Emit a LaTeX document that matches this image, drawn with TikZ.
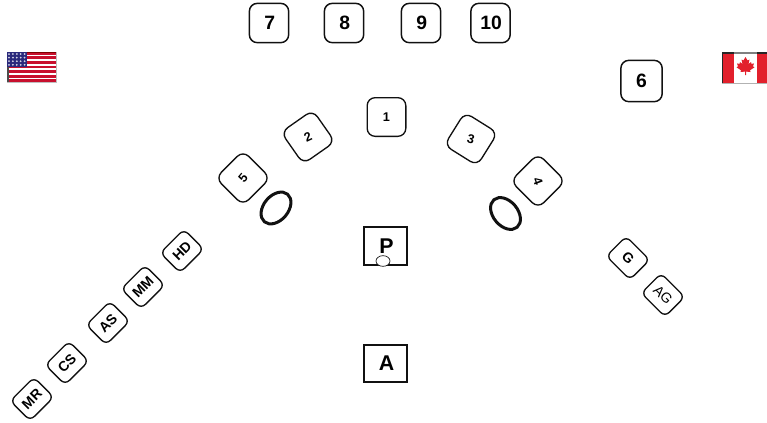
\documentclass[tikz,border=0pt]{standalone}
\usepackage{fontspec}
\setmainfont{Liberation Sans}
\usetikzlibrary{positioning,shapes.geometric}
\definecolor{FlagRed}{HTML}{C8102E}
\definecolor{FlagBlue}{HTML}{2A2A7C}
\definecolor{LeafRed}{HTML}{E2202C}
\definecolor{Edge}{HTML}{111111}
\tikzset{
 bigseat/.style={draw=Edge, line width=1.1pt, rounded corners=6pt, fill=white, minimum size=29.5pt, inner sep=0pt, font=\fontsize{14.5}{16}\selectfont\bfseries},
 midseat/.style={draw=Edge, line width=1pt, rounded corners=6pt, fill=white, minimum size=29pt, inner sep=0pt, font=\fontsize{9.5}{11}\selectfont\bfseries},
 smallseat/.style={draw=Edge, line width=1pt, rounded corners=4.5pt, fill=white, minimum width=25pt, minimum height=21pt, inner sep=0pt, font=\fontsize{10.5}{12}\selectfont\bfseries},
 ring/.style={draw=Edge, line width=2.25pt, ellipse, fill=white, minimum width=18.5pt, minimum height=27pt, inner sep=0pt},
 official/.style={draw=Edge, line width=1.5pt, fill=white, inner sep=0pt, minimum width=32pt, minimum height=28pt, font=\fontsize{16}{18}\selectfont\bfseries}
}
\begin{document}
\begin{tikzpicture}[x=0.75pt,y=-0.75pt]
\useasboundingbox (0,0) rectangle (767,422);
% top row
\foreach \name/\x/\y in {7/269/23,8/344/23,9/421/23,10/490.5/23}{
  \node[bigseat] (seat\name) at (\x,\y) {\raisebox{-1.8pt}{\hspace{1pt}\name}};
}
\node[bigseat, minimum size=31pt] (seat6) at (641.5,81) {\raisebox{-1.5pt}{6}};
% arc
\foreach \name/\x/\y/\ang/\tilt in {1/386.5/117/0/0,2/308/137/35/-10,3/471/139/-32/17,4/538/181/-45/-25,5/243/178/-45/95}{
  \node[midseat, rotate=\ang] (seat\name) at (\x,\y) {\rotatebox{\tilt}{\name}};
}
\node[ring, rotate=-40] (ringL) at (276,208) {};
\node[ring, rotate=40] (ringR) at (505.5,213.5) {};
% officials
\node[official] (boxP) at (385.5,246) {\raisebox{-1pt}{\hspace{1.5pt}P}};
\node[draw=Edge, ellipse, fill=white, line width=0.5pt, minimum width=10.5pt, minimum height=8pt, inner sep=0pt] (spot) at (383,261) {};
\node[official] (boxA) at (385.5,363.5) {\raisebox{-1.2pt}{\hspace{1.5pt}A}};
% bench
\foreach \name/\x/\y in {MR/32/399,CS/67/363,AS/108/323,MM/143/287,HD/182/251}{
  \node[smallseat, rotate=45] (bench\name) at (\x,\y) {\name};
}
\node[smallseat, rotate=-45] (benchG) at (628,258) {G};
\node[smallseat, rotate=-45, font=\fontsize{10.5}{12}\selectfont] (benchAG) at (663,295) {AG};
% usa flag
\fill[white] (7,52) rectangle (57,82);
\foreach \i in {0,2,...,12}{
  \fill[FlagRed] (7,51.8+\i*2.3) rectangle (56,51.8+\i*2.3+2.7);
}
\fill[FlagBlue] (7,52) rectangle (27,67);
\foreach \i in {0,...,4}{
  \foreach \j in {0,...,3}{
    \fill[white!80!FlagBlue] (9+\i*3.9,54+\j*3.6) circle (1);
  }
}
\draw[red!50!black, line width=0.8pt] (27,52.5) -- (56,52.5);
\draw[gray!50, line width=0.7pt] (56.5,52) -- (56.5,82) -- (7,82);
\draw[black!70, line width=0.8pt] (8,67) -- (8,82);
% canada flag
\fill[LeafRed] (722,53) rectangle (767,83);
\fill[white] (734,53) rectangle (757,83);
\draw[black!85, line width=0.9pt] (722.5,83) -- (722.5,53) -- (734,53);
\draw[gray, line width=0.9pt] (734,53) -- (757,53);
\draw[black!85, line width=0.9pt] (757,53) -- (767,53);
\draw[gray!60, line width=0.6pt] (722,83.5) -- (767,83.5);
\fill[LeafRed] (745.5,57) -- (747.5,60.4) -- (749.5,59.6) -- (748.5,63.9) -- (751,62.1) -- (751.5,63.9) -- (754,63.4) -- (753,66.4) -- (754.5,67.3) -- (750,70.3) -- (750.5,72) -- (746,71.6) -- (746,75) -- (745,75) -- (745,71.6) -- (740.5,72) -- (741,70.3) -- (736.5,67.3) -- (738,66.4) -- (737,63.4) -- (739.5,63.9) -- (740,62.1) -- (742.5,63.9) -- (741.5,59.6) -- (743.5,60.4) -- cycle;
\end{tikzpicture}
\end{document}
